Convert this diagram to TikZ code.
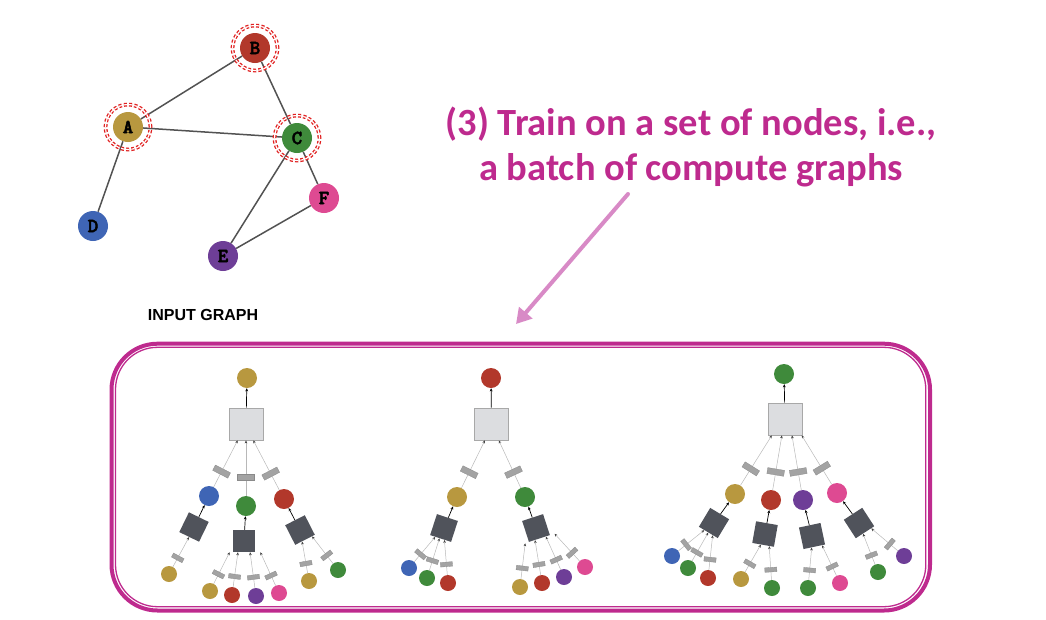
\documentclass[tikz,border=0pt]{standalone}
\usepackage{fontspec}
\newfontfamily\carl{Carlito}
\newfontfamily\lsans{Liberation Sans}
\newfontfamily\monob{lmmonolt10-bold.otf}[FakeBold=2.5]
\usetikzlibrary{arrows.meta,calc}
\definecolor{gold}{HTML}{B8983F}
\definecolor{redc}{HTML}{B2382B}
\definecolor{greenc}{HTML}{3F8A3B}
\definecolor{bluec}{HTML}{3F65B5}
\definecolor{purplec}{HTML}{6E3E97}
\definecolor{pinkc}{HTML}{DE4A92}
\definecolor{mag}{HTML}{BE2A8E}
\definecolor{orch}{HTML}{D88AC6}
\definecolor{ringred}{HTML}{E02020}
\definecolor{lgfill}{HTML}{DCDDE0}
\definecolor{lgdraw}{HTML}{A8A8A8}
\definecolor{dkfill}{HTML}{50535B}
\definecolor{msgfill}{HTML}{A3A3A3}
\definecolor{msgdraw}{HTML}{8A8A8A}
\begin{document}
\begin{tikzpicture}[x=1pt,y=-1pt,
  gnode/.style={circle,minimum size=30pt,inner sep=0pt,font=\monob\fontsize{20}{20}\selectfont},
  gedge/.style={draw=black!68,line width=1.5pt},
  ringd/.style={draw=ringred,line width=1.3pt,double=white,double distance=1.2pt,dash pattern=on 3pt off 2.2pt},
  tc/.style={circle,minimum size=20pt,inner sep=0pt},
  tl/.style={circle,minimum size=16pt,inner sep=0pt},
  aggl/.style={rectangle,draw=lgdraw,fill=lgfill,line width=0.8pt,minimum width=34pt,minimum height=32pt,inner sep=0pt},
  aggd/.style={rectangle,fill=dkfill,minimum size=22pt,inner sep=0pt},
  msgl/.style={rectangle,fill=msgfill,draw=msgdraw,line width=0.3pt,minimum width=6pt,minimum height=17pt,inner sep=0pt,sloped,pos=0.33},
  msgs/.style={rectangle,fill=msgfill,draw=msgdraw,line width=0.3pt,minimum width=4.5pt,minimum height=12pt,inner sep=0pt,sloped,pos=0.3},
  inedge/.style={draw=black!28,line width=0.5pt,-{Stealth[length=3pt,width=2.6pt,color=black!75]}},
  upedge/.style={draw=black,line width=0.7pt,-{Stealth[length=3.2pt,width=2.8pt]}},
  bigarrow/.style={draw=orch,line width=4pt,line cap=round,-{Triangle[width=17pt,length=15pt]}}
]
\useasboundingbox (0,0) rectangle (1046,619);

% ---------- input graph ----------
\node[gnode,fill=gold]    (A) at (128,127) {A};
\node[gnode,fill=redc]    (B) at (255,48)  {B};
\node[gnode,fill=greenc]  (C) at (297,138) {C};
\node[gnode,fill=bluec]   (D) at (93,226)  {D};
\node[gnode,fill=purplec] (E) at (223,256) {E};
\node[gnode,fill=pinkc]   (F) at (324,198) {F};
\draw[gedge] (A) -- (B);
\draw[gedge] (A) -- (C);
\draw[gedge] (B) -- (C);
\draw[gedge] (A) -- (D);
\draw[gedge] (C) -- (E);
\draw[gedge] (C) -- (F);
\draw[gedge] (E) -- (F);
\draw[ringd] (A.center) circle[radius=22.5pt];
\draw[ringd] (B.center) circle[radius=22.5pt];
\draw[ringd] (C.center) circle[radius=22.5pt];
\node[font=\lsans\bfseries\fontsize{16}{16}\selectfont,anchor=base] (inlab) at (203,320.5) {INPUT GRAPH};

% ---------- title and arrow ----------
\node[font=\carl\bfseries\fontsize{38.5}{45}\selectfont,text=mag,align=center,anchor=base] (title) at (691,180)
  {(3) Train on a set of nodes, i.e.,\\a batch of compute graphs};
\coordinate (arrS) at (628,194);
\coordinate (arrE) at (516,324);
\draw[bigarrow] (arrS) -- (arrE);

% ---------- frame ----------
\draw[mag,line width=4pt,rounded corners=46pt] (111.5,343.7) rectangle (930,610.5);
\draw[mag,line width=1.3pt,rounded corners=42pt] (115.5,347.3) rectangle (925.8,606.7);

% ---------- tree 1 (A) ----------
\node[tc,fill=gold] (r1) at (247,378) {};
\node[aggl] (g1) at (246,424) {};
\node[tc,fill=bluec]  (a1) at (209,496) {};
\node[tc,fill=greenc] (b1) at (246,506) {};
\node[tc,fill=redc]   (c1) at (284,499) {};
\node[aggd,rotate=-26] (da1) at (194,527) {};
\node[aggd]            (db1) at (244,541) {};
\node[aggd,rotate=27]  (dc1) at (300,530) {};
\node[tl,fill=gold]    (la1) at (169,574) {};
\node[tl,fill=gold]    (lb1) at (210,591) {};
\node[tl,fill=redc]    (lb2) at (232,595) {};
\node[tl,fill=purplec] (lb3) at (256,596) {};
\node[tl,fill=pinkc]   (lb4) at (279,593) {};
\node[tl,fill=gold]    (lc1) at (309,581) {};
\node[tl,fill=greenc]  (lc2) at (338,570) {};
\draw[upedge] (g1) -- (r1);
\draw[inedge] (a1) -- node[msgl]{} ($(g1.south west)!0.26!(g1.south east)$);
\draw[inedge] (b1) -- node[msgl]{} ($(g1.south west)!0.5!(g1.south east)$);
\draw[inedge] (c1) -- node[msgl]{} ($(g1.south west)!0.71!(g1.south east)$);
\draw[upedge] (da1) -- (a1);
\draw[upedge] (db1) -- (b1);
\draw[upedge] (dc1) -- (c1);
\draw[inedge] (la1) -- node[msgs]{} ($(da1.south west)!0.5!(da1.south east)$);
\draw[inedge] (lb1) -- node[msgs]{} ($(db1.south west)!-0.14!(db1.south east)$);
\draw[inedge] (lb2) -- node[msgs]{} ($(db1.south west)!0.23!(db1.south east)$);
\draw[inedge] (lb3) -- node[msgs]{} ($(db1.south west)!0.77!(db1.south east)$);
\draw[inedge] (lb4) -- node[msgs]{} ($(db1.south west)!1.23!(db1.south east)$);
\draw[inedge] (lc1) -- node[msgs]{} ($(dc1.south west)!0.35!(dc1.south east)$);
\draw[inedge] (lc2) -- node[msgs]{} ($(dc1.south west)!0.85!(dc1.south east)$);

% ---------- tree 2 (B) ----------
\node[tc,fill=redc] (r2) at (491,378) {};
\node[aggl] (g2) at (491.5,424) {};
\node[tc,fill=gold]   (a2) at (457,497) {};
\node[tc,fill=greenc] (b2) at (525,497) {};
\node[aggd,rotate=-18] (da2) at (444,528) {};
\node[aggd,rotate=18]  (db2) at (536,528) {};
\node[tl,fill=bluec]   (ma1) at (409,568) {};
\node[tl,fill=greenc]  (ma2) at (427,578) {};
\node[tl,fill=redc]    (ma3) at (448,583) {};
\node[tl,fill=gold]    (mb1) at (520,587) {};
\node[tl,fill=redc]    (mb2) at (542,583) {};
\node[tl,fill=purplec] (mb3) at (564,577) {};
\node[tl,fill=pinkc]   (mb4) at (585,567) {};
\draw[upedge] (g2) -- (r2);
\draw[inedge] (a2) -- node[msgl]{} ($(g2.south west)!0.31!(g2.south east)$);
\draw[inedge] (b2) -- node[msgl]{} ($(g2.south west)!0.71!(g2.south east)$);
\draw[upedge] (da2) -- (a2);
\draw[upedge] (db2) -- (b2);
\draw[inedge] (ma1) -- node[msgs]{} ($(da2.south west)!0.25!(da2.south east)$);
\draw[inedge] (ma2) -- node[msgs]{} ($(da2.south west)!0.45!(da2.south east)$);
\draw[inedge] (ma3) -- node[msgs]{} ($(da2.south west)!0.68!(da2.south east)$);
\draw[inedge] (mb1) -- node[msgs]{} ($(db2.south west)!-0.17!(db2.south east)$);
\draw[inedge] (mb2) -- node[msgs]{} ($(db2.south west)!0.29!(db2.south east)$);
\draw[inedge] (mb3) -- node[msgs]{} ($(db2.south west)!0.8!(db2.south east)$);
\draw[inedge] (mb4) -- node[msgs]{} ($(db2.south west)!1.21!(db2.south east)$);

% ---------- tree 3 (C) ----------
\node[tc,fill=greenc] (r3) at (784,374) {};
\node[aggl] (g3) at (785,419) {};
\node[tc,fill=gold]    (a3) at (735,494) {};
\node[tc,fill=redc]    (b3) at (771,500) {};
\node[tc,fill=purplec] (c3) at (803,500) {};
\node[tc,fill=pinkc]   (d3) at (837,493) {};
\node[aggd,rotate=-31] (da3) at (714,523) {};
\node[aggd,rotate=-10] (db3) at (765,534) {};
\node[aggd,rotate=12]  (dc3) at (812,536) {};
\node[aggd,rotate=33]  (dd3) at (859,523) {};
\node[tl,fill=bluec]   (na1) at (672,556) {};
\node[tl,fill=greenc]  (na2) at (688,568) {};
\node[tl,fill=redc]    (na3) at (708,578) {};
\node[tl,fill=gold]    (nb1) at (741,579) {};
\node[tl,fill=greenc]  (nb2) at (772,588) {};
\node[tl,fill=greenc]  (nc1) at (808,588) {};
\node[tl,fill=pinkc]   (nc2) at (840,583) {};
\node[tl,fill=greenc]  (nd1) at (878,572) {};
\node[tl,fill=purplec] (nd2) at (904,556) {};
\draw[upedge] (g3) -- (r3);
\draw[inedge] (a3) -- node[msgl]{} ($(g3.south west)!0.12!(g3.south east)$);
\draw[inedge] (b3) -- node[msgl]{} ($(g3.south west)!0.41!(g3.south east)$);
\draw[inedge] (c3) -- node[msgl]{} ($(g3.south west)!0.7!(g3.south east)$);
\draw[inedge] (d3) -- node[msgl]{} ($(g3.south west)!0.98!(g3.south east)$);
\draw[upedge] (da3) -- (a3);
\draw[upedge] (db3) -- (b3);
\draw[upedge] (dc3) -- (c3);
\draw[upedge] (dd3) -- (d3);
\draw[inedge] (na1) -- node[msgs]{} ($(da3.south west)!0.29!(da3.south east)$);
\draw[inedge] (na2) -- node[msgs]{} ($(da3.south west)!0.5!(da3.south east)$);
\draw[inedge] (na3) -- node[msgs]{} ($(da3.south west)!0.73!(da3.south east)$);
\draw[inedge] (nb1) -- node[msgs]{} ($(db3.south west)!0.4!(db3.south east)$);
\draw[inedge] (nb2) -- node[msgs]{} ($(db3.south west)!0.78!(db3.south east)$);
\draw[inedge] (nc1) -- node[msgs]{} ($(dc3.south west)!0.38!(dc3.south east)$);
\draw[inedge] (nc2) -- node[msgs]{} ($(dc3.south west)!0.85!(dc3.south east)$);
\draw[inedge] (nd1) -- node[msgs]{} ($(dd3.south west)!0.39!(dd3.south east)$);
\draw[inedge] (nd2) -- node[msgs]{} ($(dd3.south west)!0.83!(dd3.south east)$);
\end{tikzpicture}
\end{document}
